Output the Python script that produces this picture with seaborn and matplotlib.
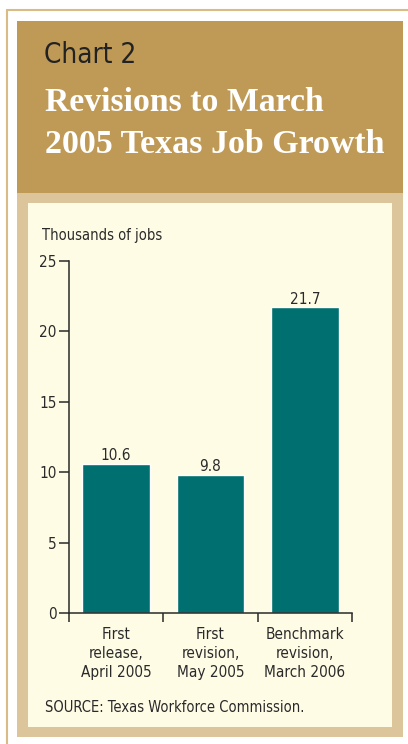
import matplotlib
matplotlib.use("Agg")
import matplotlib.pyplot as plt
from matplotlib.patches import Rectangle
from matplotlib import font_manager
import seaborn as sns
import pandas as pd

# Data
categories = ["First\nrelease,\nApril 2005",
              "First\nrevision,\nMay 2005",
              "Benchmark\nrevision,\nMarch 2006"]
values = [10.6, 9.8, 21.7]
y_ticks = [0, 5, 10, 15, 20, 25]

W, H = 408, 744
DPI = 100

GOLD = "#BF9A56"
TAN = "#DCC59B"
CREAM = "#FFFCE6"
TEAL = "#006F6F"
EDGE = "#D9BB85"
INK = "#2A2A2A"
FS = 10.5

sns.set_theme(style="white")

# Prefer a condensed sans face for the chart text when one is installed
condensed = [f for f in font_manager.fontManager.ttflist
             if f.stretch in ("condensed", "semi-condensed", "extra-condensed")
             and f.style == "normal" and f.weight in (400, "normal", "regular")]
condensed.sort(key=lambda f: ("Sans" not in f.name, f.name))
if condensed:
    plt.rcParams["font.family"] = [condensed[0].name, "Liberation Sans", "DejaVu Sans"]
    plt.rcParams["font.stretch"] = condensed[0].stretch
else:
    plt.rcParams["font.family"] = ["Liberation Sans", "DejaVu Sans"]

fig = plt.figure(figsize=(W / DPI, H / DPI), dpi=DPI)
fig.patch.set_facecolor("white")


def box(x0, y0, x1, y1, color):
    """Rectangle given in pixel coordinates measured from the top-left."""
    fig.patches.append(Rectangle((x0 / W, 1 - y1 / H), (x1 - x0) / W, (y1 - y0) / H,
                                 transform=fig.transFigure, facecolor=color,
                                 edgecolor="none", zorder=-5))


# Page frame lines
fig.add_artist(plt.Line2D([6.5 / W, 6.5 / W], [1 - 10 / H, 0], transform=fig.transFigure,
                          color=EDGE, lw=1.5, zorder=-5))
fig.add_artist(plt.Line2D([6.5 / W, 1], [1 - 10 / H, 1 - 10 / H], transform=fig.transFigure,
                          color=EDGE, lw=1.5, zorder=-5))

# Title block, outer frame and chart panel
box(17, 21, 403, 193, GOLD)
box(17, 193, 403, 737, TAN)
box(28, 203, 392, 727, CREAM)

fig.text(44 / W, 1 - 55 / H, "Chart 2", fontsize=20, color="#222222",
         va="center", ha="left")
fig.text(45 / W, 1 - 111 / H, "Revisions to March", fontsize=24.3, color="white",
         fontweight="bold", family=["Liberation Serif", "DejaVu Serif"],
         stretch="normal", va="baseline", ha="left")
fig.text(45 / W, 1 - 153 / H, "2005 Texas Job Growth", fontsize=24.5, color="white",
         fontweight="bold", family=["Liberation Serif", "DejaVu Serif"],
         stretch="normal", va="baseline", ha="left")

# Plot area
ax_l, ax_r, ax_t, ax_b = 69, 352, 261, 613
ax = fig.add_axes([ax_l / W, 1 - ax_b / H, (ax_r - ax_l) / W, (ax_b - ax_t) / H])
ax.set_zorder(2)
ax.set_facecolor("none")

df = pd.DataFrame({"category": categories, "jobs": values})
sns.barplot(data=df, x="category", y="jobs", color=TEAL, saturation=1,
            width=0.72, ax=ax, zorder=2)

ax.bar_label(ax.containers[0], fmt="%.1f", padding=0.5, fontsize=FS + 0.5, color=INK)

ax.set_xlim(-0.5, 2.5)
ax.set_ylim(0, 25)
ax.set_xlabel("")
ax.set_ylabel("")

for side in ("top", "right"):
    ax.spines[side].set_visible(False)
for side in ("left", "bottom"):
    ax.spines[side].set_color(INK)
    ax.spines[side].set_linewidth(1.1)

ax.set_yticks(y_ticks)
ax.tick_params(axis="y", direction="out", length=7.5, width=1.1, color=INK,
               labelsize=FS + 0.5, labelcolor=INK, pad=1.5, left=True)

# Boundary ticks between categories, labels centred under each bar
ax.set_xticks([-0.5, 0.5, 1.5, 2.5])
ax.set_xticklabels([])
ax.tick_params(axis="x", which="major", direction="out", length=6.5, width=1.1,
               color=INK, bottom=True)
ax.set_xticks([0, 1, 2], minor=True)
ax.set_xticklabels(categories, minor=True)
ax.tick_params(axis="x", which="minor", length=0, pad=10, labelsize=FS + 0.5,
               labelcolor=INK)
for lab in ax.get_xticklabels(minor=True):
    lab.set_linespacing(1.33)

fig.text(42 / W, 1 - 236 / H, "Thousands of jobs", fontsize=FS, color=INK,
         va="center", ha="left")
fig.text(45 / W, 1 - 707 / H, "SOURCE: Texas Workforce Commission.", fontsize=FS,
         color=INK, va="center", ha="left")

fig.savefig("out.png", dpi=DPI, facecolor="white")
